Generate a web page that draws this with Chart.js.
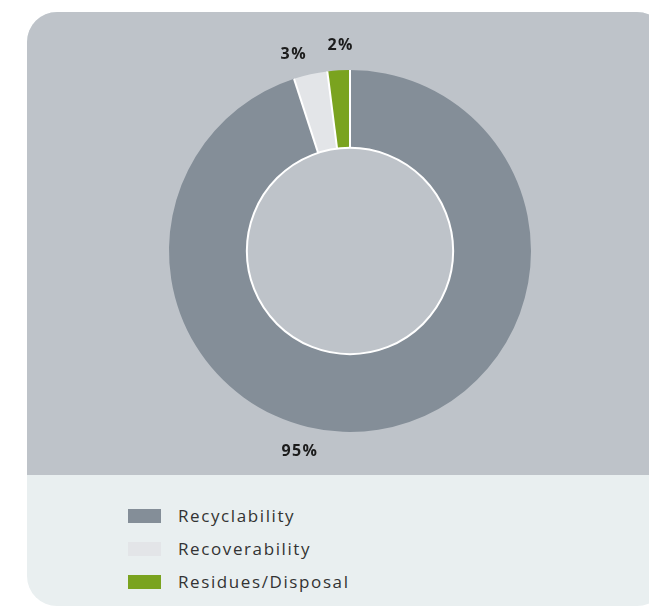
<!DOCTYPE html>
<html lang="en">
<head>
    <meta charset="UTF-8">
    <title>Recyclability</title>
    <script src="https://cdn.jsdelivr.net/npm/chart.js@4.4.0/dist/chart.umd.min.js"></script>
    <style>
        body {
            margin: 0;
            background: #ffffff;
            font-family: "Open Sans", Arial, sans-serif;
            overflow: hidden;
        }
        .card {
            position: absolute;
            left: 27px;
            top: 12px;
            width: 640px;
            height: 594px;
            border-radius: 30px;
            overflow: hidden;
            background: #e9eff0;
        }
        .top {
            position: absolute;
            left: 0;
            top: 0;
            width: 100%;
            height: 463px;
            background: #bec3c9;
        }
        .chart-box {
            position: absolute;
            left: 103px;
            top: 19px;
            width: 440px;
            height: 440px;
        }
        .legend {
            position: absolute;
            left: 101px;
            top: 487px;
        }
        .legend-item {
            height: 33px;
            display: flex;
            align-items: center;
            font-size: 17px;
            color: #333333;
            letter-spacing: 1.6px;
        }
        .legend-swatch {
            width: 33px;
            height: 14px;
            margin-right: 17px;
        }
    </style>
</head>
<body>
    <div class="card">
        <div class="top">
            <div class="chart-box">
                <canvas id="donut" width="440" height="440"></canvas>
            </div>
        </div>
        <div class="legend" id="legend"></div>
    </div>

    <script>
        const categories = ['Recyclability', 'Recoverability', 'Residues/Disposal'];
        const shares = [95, 3, 2];
        const colours = ['#848e98', '#e3e5e8', '#7aa31f'];

        // nudge of each % label around the ring, in degrees
        const labelShift = [23, -3.4, 1];

        const ringLines = {
            id: 'ringLines',
            afterDatasetDraw(chart) {
                const arcs = chart.getDatasetMeta(0).data;
                const ctx = chart.ctx;
                const c = arcs[0];
                ctx.save();
                ctx.strokeStyle = '#ffffff';
                ctx.lineWidth = 2;
                // separators between segments
                arcs.forEach(a => {
                    const ang = a.startAngle;
                    ctx.beginPath();
                    ctx.moveTo(a.x + Math.cos(ang) * a.innerRadius, a.y + Math.sin(ang) * a.innerRadius);
                    ctx.lineTo(a.x + Math.cos(ang) * a.outerRadius, a.y + Math.sin(ang) * a.outerRadius);
                    ctx.stroke();
                });
                // inner rim
                ctx.beginPath();
                ctx.arc(c.x, c.y, c.innerRadius, 0, Math.PI * 2);
                ctx.stroke();

                // percentage labels
                ctx.fillStyle = '#1c1c1c';
                ctx.font = 'bold 16px "Open Sans", Arial, sans-serif';
                ctx.letterSpacing = '1.4px';
                ctx.textAlign = 'center';
                ctx.textBaseline = 'middle';
                arcs.forEach((a, i) => {
                    const mid = (a.startAngle + a.endAngle) / 2 + labelShift[i] * Math.PI / 180;
                    const r = a.outerRadius + (i === 0 ? 26 : 23) - (i === 2 ? -2 : 0);
                    ctx.fillText(shares[i] + '%', a.x + Math.cos(mid) * r, a.y + Math.sin(mid) * r);
                });
                ctx.restore();
            }
        };

        const chart = new Chart(document.getElementById('donut'), {
            type: 'doughnut',
            data: {
                labels: categories,
                datasets: [{
                    data: shares,
                    backgroundColor: colours,
                    borderWidth: 0
                }]
            },
            options: {
                responsive: false,
                animation: false,
                cutout: '57%',
                layout: { padding: 39 },
                plugins: {
                    legend: { display: false },
                    tooltip: { enabled: false }
                }
            },
            plugins: [ringLines]
        });

        // html legend built from the same arrays
        const legendEl = document.getElementById('legend');
        categories.forEach((name, i) => {
            const row = document.createElement('div');
            row.className = 'legend-item';
            const sw = document.createElement('span');
            sw.className = 'legend-swatch';
            sw.style.background = colours[i];
            const txt = document.createElement('span');
            txt.textContent = name;
            row.appendChild(sw);
            row.appendChild(txt);
            legendEl.appendChild(row);
        });
    </script>
</body>
</html>
